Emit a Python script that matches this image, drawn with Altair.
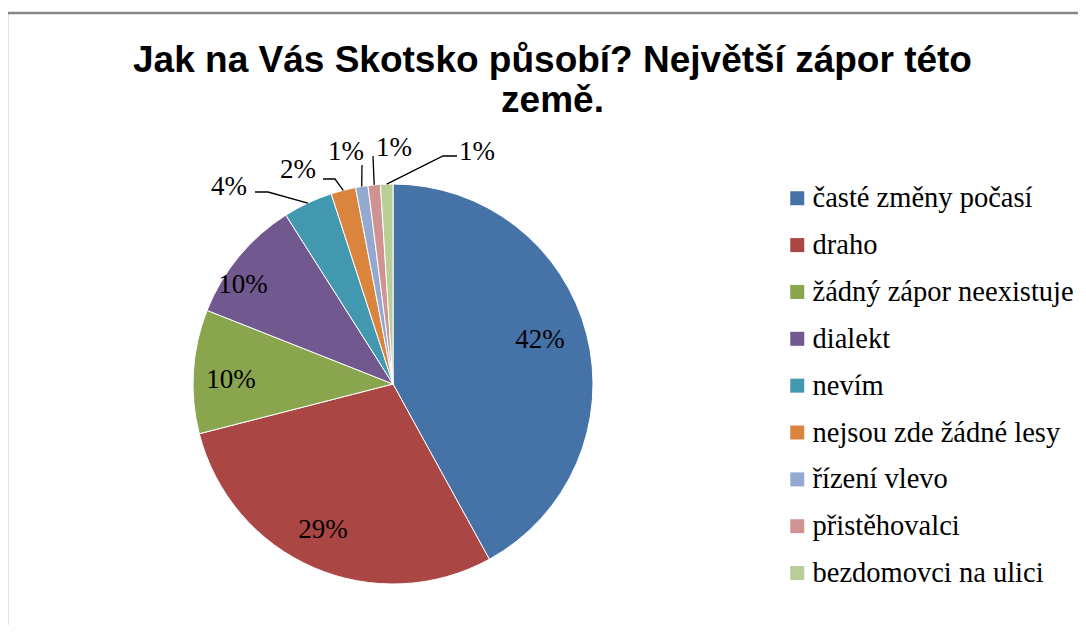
import math
import altair as alt
import pandas as pd

# ---- data ----
categories = [
    "časté změny počasí",
    "draho",
    "žádný zápor neexistuje",
    "dialekt",
    "nevím",
    "nejsou zde žádné lesy",
    "řízení vlevo",
    "přistěhovalci",
    "bezdomovci na ulici",
]
values = [42, 29, 10, 10, 4, 2, 1, 1, 1]
colors = ["#4572A7", "#AA4643", "#89A54E", "#71588F", "#4198AF",
          "#DB843D", "#93A9CF", "#D19392", "#B9CD96"]
title_lines = ["Jak na Vás Skotsko působí? Největší zápor této", "země."]

# ---- layout (pixels, relative to the pie centre) ----
W, H = 1069, 612
PAD_TOP, PAD_LEFT = 5, 1
CX, CY = 384, 371
R = 200
label_offsets = [(147, -44), (-70, 146), (-162, -4), (-150, -99),
                 (-164, -197), (-95, -214), (-47, -232), (1, -236), (84, -232)]
leader_points = [None, None, None, None,
                 [(-138, -192), (-125, -192)],
                 [(-70, -205), (-58, -205)],
                 [(-31, -219)],
                 [(-20, -228)],
                 [(64, -228), (50, -228)]]

total = sum(values)
pie_df = pd.DataFrame({"cat": categories, "value": values, "idx": range(len(values))})

label_rows, line_rows = [], []
cum = 0
for i, (c, v) in enumerate(zip(categories, values)):
    mid = (cum + v / 2) / total * 2 * math.pi
    cum += v
    lx, ly = label_offsets[i]
    label_rows.append({"cat": c, "label": f"{v}%", "x": lx, "y": ly})
    if leader_points[i]:
        pts = list(leader_points[i]) + [(R * math.sin(mid), -R * math.cos(mid))]
        for k, (px, py) in enumerate(pts):
            line_rows.append({"cat": c, "ord": k, "x": px, "y": py})

label_df = pd.DataFrame(label_rows)
line_df = pd.DataFrame(line_rows)

xs = alt.Scale(domain=[-CX, W - CX], nice=False, zero=False)
ys = alt.Scale(domain=[-CY, H - CY], nice=False, zero=False, reverse=True)

pie = alt.Chart(pie_df).mark_arc(outerRadius=R, stroke="white", strokeWidth=1).encode(
    theta=alt.Theta("value:Q", stack=True),
    color=alt.Color(
        "cat:N",
        scale=alt.Scale(domain=categories, range=colors),
        sort=categories,
        legend=alt.Legend(
            orient="none", legendX=774, legendY=171, title=None,
            symbolType="square", symbolSize=196, symbolStrokeWidth=0,
            labelFont="Liberation Serif", labelFontSize=28.5, labelColor="black",
            rowPadding=17.85, labelOffset=1, padding=0, labelLimit=400,
        ),
    ),
    order=alt.Order("idx:Q"),
    x=alt.value(CX),
    y=alt.value(CY),
)

lines = alt.Chart(line_df).mark_line(color="black", strokeWidth=1.3).encode(
    x=alt.X("x:Q", scale=xs, axis=None),
    y=alt.Y("y:Q", scale=ys, axis=None),
    detail="cat:N",
    order="ord:Q",
)

texts = alt.Chart(label_df).mark_text(
    font="Liberation Serif", fontSize=27, color="black", baseline="middle"
).encode(
    x=alt.X("x:Q", scale=xs, axis=None),
    y=alt.Y("y:Q", scale=ys, axis=None),
    text="label:N",
)

frame_df = pd.DataFrame({"k": [0]})
border_left = alt.Chart(frame_df).mark_rule(color="#878787", strokeWidth=2.5).encode(
    x=alt.value(-2), y=alt.value(0), y2=alt.value(H)
)
border_top = alt.Chart(frame_df).mark_rule(color="#878787", strokeWidth=2.5).encode(
    x=alt.value(-2), x2=alt.value(W), y=alt.value(0)
)

chart = alt.layer(border_left, border_top, pie, lines, texts).properties(
    width=W,
    height=H,
    autosize="none",
    padding={"left": PAD_LEFT, "top": PAD_TOP, "right": 0, "bottom": 0},
    title=alt.TitleParams(
        text=title_lines, font="Liberation Sans", fontSize=37, fontWeight="bold",
        color="black", anchor="middle", baseline="alphabetic", offset=-137, dx=9,
        lineHeight=40,
    ),
).configure_view(stroke=None)

chart.save("out.html", embed_options={"renderer": "svg", "actions": False})
